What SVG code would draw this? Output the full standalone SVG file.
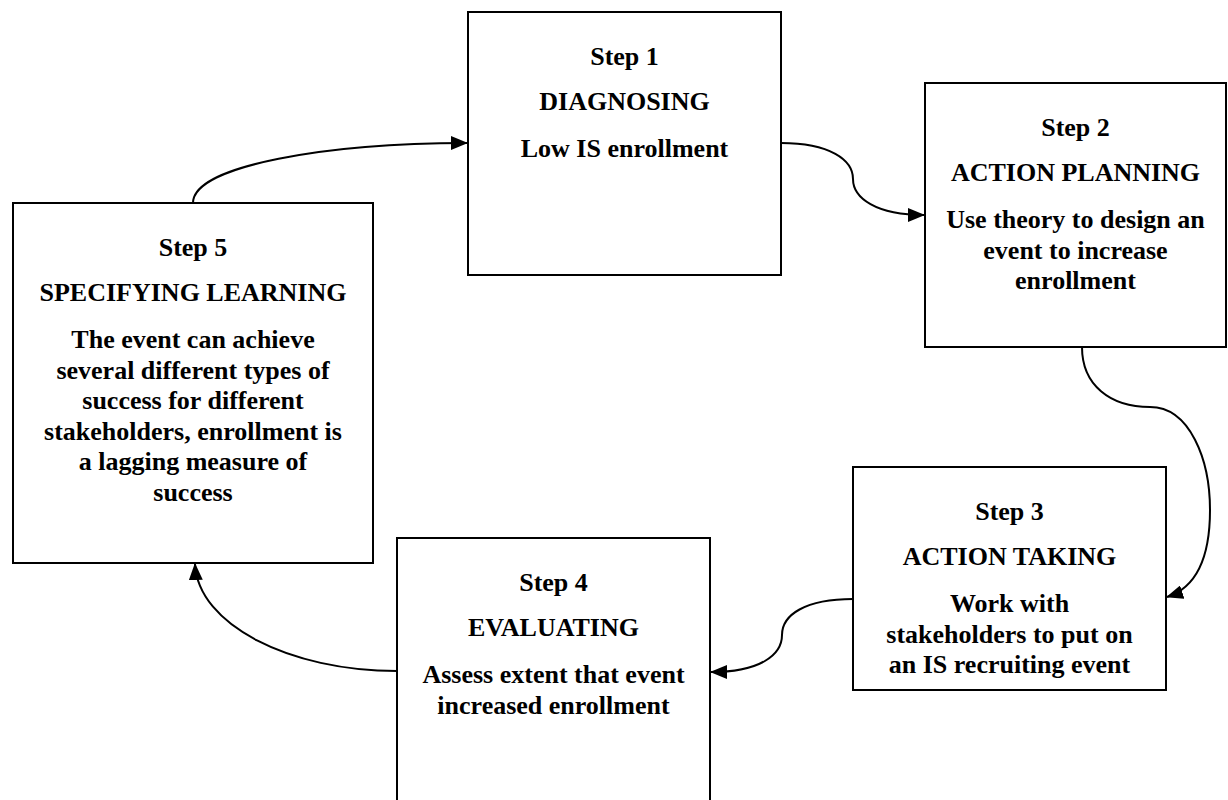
<svg xmlns="http://www.w3.org/2000/svg" width="1228" height="800" viewBox="0 0 1228 800">
<style>
.box{fill:#fff;stroke:#000;stroke-width:2}
.t{font-family:"Liberation Serif","Times New Roman",serif;font-weight:bold;font-size:26px;fill:#000;text-anchor:middle}
.c{fill:none;stroke:#000;stroke-width:2}
</style>
<defs>
<marker id="ah" markerUnits="userSpaceOnUse" markerWidth="18" markerHeight="14" refX="16" refY="7" orient="auto">
<path d="M0,0 L17,7 L0,14 Z" fill="#000"/>
</marker>
</defs>
<rect width="1228" height="800" fill="#fff"/>
<g id="node1">
<rect class="box" x="468" y="12" width="313" height="263"/>
<text class="t" x="624.5" y="65">Step 1</text>
<text class="t" x="624.5" y="110">DIAGNOSING</text>
<text class="t" x="624.5" y="157">Low IS enrollment</text>
</g>
<g id="node2">
<rect class="box" x="925" y="83" width="301" height="264"/>
<text class="t" x="1075.5" y="136">Step 2</text>
<text class="t" x="1075.5" y="181">ACTION PLANNING</text>
<text class="t" x="1075.5" y="228">Use theory to design an</text>
<text class="t" x="1075.5" y="258.5">event to increase</text>
<text class="t" x="1075.5" y="289">enrollment</text>
</g>
<g id="node3">
<rect class="box" x="853" y="467" width="313" height="223"/>
<text class="t" x="1009.5" y="520">Step 3</text>
<text class="t" x="1009.5" y="565">ACTION TAKING</text>
<text class="t" x="1009.5" y="612">Work with</text>
<text class="t" x="1009.5" y="642.5">stakeholders to put on</text>
<text class="t" x="1009.5" y="673">an IS recruiting event</text>
</g>
<g id="node4">
<rect class="box" x="397" y="538" width="313" height="280"/>
<text class="t" x="553.5" y="591">Step 4</text>
<text class="t" x="553.5" y="636">EVALUATING</text>
<text class="t" x="553.5" y="683">Assess extent that event</text>
<text class="t" x="553.5" y="713.5">increased enrollment</text>
</g>
<g id="node5">
<rect class="box" x="13" y="203" width="360" height="360"/>
<text class="t" x="193" y="256">Step 5</text>
<text class="t" x="193" y="301">SPECIFYING LEARNING</text>
<text class="t" x="193" y="348">The event can achieve</text>
<text class="t" x="193" y="378.5">several different types of</text>
<text class="t" x="193" y="409">success for different</text>
<text class="t" x="193" y="439.5">stakeholders, enrollment is</text>
<text class="t" x="193" y="470">a lagging measure of</text>
<text class="t" x="193" y="500.5">success</text>
</g>
<g id="connectors">
<path class="c" d="M193,203 C193,165 330,143 467,143" marker-end="url(#ah)"/>
<path class="c" d="M781,143 C830,143 853,160 853,179 C853,198 876,215 924,215" marker-end="url(#ah)"/>
<path class="c" d="M1082,347 C1082,385 1110,407 1150,407 C1190,407 1210,460 1210,510 C1210,560 1195,588 1167,597" marker-end="url(#ah)"/>
<path class="c" d="M853,599 C805,599 782,615 782,635 C782,655 760,672 711,672" marker-end="url(#ah)"/>
<path class="c" d="M397,671 C290,671 198,625 195,564" marker-end="url(#ah)"/>
</g>
</svg>
